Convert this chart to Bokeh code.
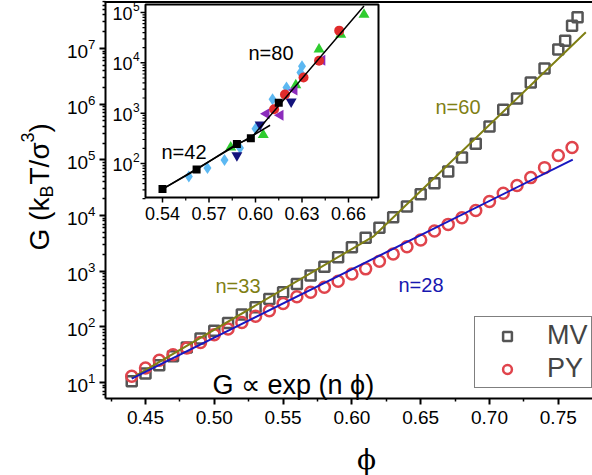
import numpy as np
from bokeh.plotting import figure
from bokeh.models import (Range1d, LogScale, FixedTicker, Label, Legend, LegendItem,
                          LogTickFormatter, NumeralTickFormatter)
from bokeh.core.properties import value
from bokeh.embed import file_html
from bokeh.resources import INLINE

# ---------------- main panel data ----------------
phi_mv = [0.44, 0.45, 0.46, 0.47, 0.48, 0.49, 0.50, 0.51, 0.52, 0.53, 0.54, 0.55, 0.56,
          0.57, 0.58, 0.59, 0.60, 0.61, 0.62, 0.63, 0.64, 0.65, 0.66, 0.67, 0.68, 0.69,
          0.70, 0.71, 0.72, 0.73, 0.74, 0.75, 0.755, 0.76, 0.764]
G_mv = [10.5, 14.5, 20.4, 29.5, 42.7, 61.7, 85.1, 117, 166, 224, 316, 417, 589,
        832, 1200, 1780, 2690, 3980, 6030, 9330, 14500, 24000, 38000, 61700, 110000, 195000,
        398000, 794000, 1.26e6, 2.45e6, 4.37e6, 9.55e6, 1.38e7, 2.57e7, 3.63e7]

phi_py = [0.44, 0.45, 0.46, 0.47, 0.48, 0.49, 0.50, 0.51, 0.52, 0.53, 0.54, 0.55, 0.56,
          0.57, 0.58, 0.59, 0.60, 0.61, 0.62, 0.63, 0.64, 0.65, 0.66, 0.67, 0.68, 0.69,
          0.70, 0.71, 0.72, 0.73, 0.74, 0.75, 0.76]
G_py = [12.9, 18.2, 25.1, 31.6, 41.7, 52.5, 72.4, 91.2, 120, 155, 195, 263, 347,
        417, 513, 661, 891, 1100, 1510, 2040, 2750, 3630, 5250, 6920, 9120, 12300,
        17800, 25100, 34700, 47900, 72400, 120000, 166000]

fit_mv_phi = [0.44, 0.616, 0.770]      # n=33 then n=60
fit_mv_G = [12.0, 4270, 1.95e7]
fit_py_phi = [0.44, 0.7605]            # n=28
fit_py_G = [11.7, 1.01e5]

main_xticks = [0.45, 0.50, 0.55, 0.60, 0.65, 0.70, 0.75]
main_xminor = [0.425, 0.475, 0.525, 0.575, 0.625, 0.675, 0.725]
main_yticks = [10.0 ** k for k in range(1, 8)]
main_yminor = [6.0, 7.0, 8.0, 9.0] + [m * 10.0 ** k for k in range(1, 8) for m in range(2, 10)]

# ---------------- inset data ----------------
in_sq_phi = [0.54, 0.562, 0.588, 0.597, 0.615]
in_sq_G = [31, 76, 245, 316, 1620]
in_curve_phi = [0.54, 0.562, 0.588, 0.597, 0.670]
in_curve_G = [31, 76, 245, 316, 1.35e5]
in_n42_phi = [0.54, 0.6094]
in_n42_G = [31, 575]
in_dia_phi = [0.557, 0.569, 0.580, 0.590, 0.600, 0.611, 0.620, 0.629, 0.630]
in_dia_G = [55, 81, 117, 204, 490, 1900, 3240, 6460, 8510]
in_up_phi = [0.584, 0.605, 0.626, 0.641, 0.655, 0.670]
in_up_G = [209, 372, 3630, 18600, 36300, 91200]
in_down_phi = [0.588, 0.603, 0.623]
in_down_G = [145, 589, 1700]
in_left_phi = [0.607, 0.616, 0.625, 0.643]
in_left_G = [977, 912, 2880, 11200]
in_circ_phi = [0.612, 0.619, 0.631, 0.641, 0.654]
in_circ_G = [1200, 2340, 5130, 11000, 43600]

in_xticks = [0.54, 0.57, 0.60, 0.63, 0.66]
in_xtick_labels = ["0.54", "0.57", "0.60", "0.63", "0.66"]
in_xminor = [0.555, 0.585, 0.615, 0.645, 0.675]
in_yexp = [2, 3, 4, 5]
in_yminor = [m * 10.0 ** k for k in range(1, 5) for m in range(2, 10)]

# ---------------- layout helpers (canvas pixel -> data) ----------------
W, H = 592, 475

def mx(px):
    return 0.45 + (px - 145) / 1376.0

def my(py):
    return 10 ** (1 + (382 - py) / 55.67)

IPX = 1550.0                             # inset px per unit phi (0.54 at px 162)
IPD = 50.33                              # inset px per decade (1e2 at py 163)
def ixv(px):
    return 0.54 + (px - 162) / IPX

def iyl(py):
    return 2 + (163 - py) / IPD

IN_X0, IN_X1 = ixv(145), ixv(378)
IN_LB, IN_LT = iyl(197), iyl(4)

p = figure(width=W, height=H, x_range=Range1d(mx(0), mx(W)),
           y_range=Range1d(my(H), my(0)), y_axis_type="log",
           output_backend="svg", toolbar_location=None, min_border=0)
p.outline_line_color = None
p.grid.visible = False
p.background_fill_color = "white"
p.border_fill_color = "white"

p.extra_x_ranges = {"ix": Range1d(ixv(0), ixv(W))}
p.extra_y_ranges = {"iy": Range1d(10 ** iyl(H), 10 ** iyl(0))}
p.extra_y_scales = {"iy": LogScale()}

p.xaxis.ticker = FixedTicker(ticks=main_xticks, minor_ticks=main_xminor)
p.xaxis.formatter = NumeralTickFormatter(format="0.00")
p.yaxis.ticker = FixedTicker(ticks=main_yticks, minor_ticks=main_yminor)
p.yaxis.formatter = LogTickFormatter()
p.xaxis.fixed_location = my(398)
p.xaxis.bounds = (mx(105), mx(W))
p.yaxis.fixed_location = mx(105)
p.yaxis.bounds = (my(398), my(1.5))
for ax in (p.xaxis[0], p.yaxis[0]):
    ax.axis_line_width = 2
    ax.axis_line_color = "black"
    ax.major_tick_line_width = 2
    ax.minor_tick_line_width = 1.5
    ax.major_tick_line_color = "black"
    ax.minor_tick_line_color = "black"
    ax.major_tick_in = 0
    ax.minor_tick_in = 0
    ax.major_tick_out = 6
    ax.minor_tick_out = 3
    ax.major_label_text_font = "Liberation Sans"
    ax.major_label_text_font_size = "19px"
    ax.major_label_text_color = "black"
p.xaxis.major_label_standoff = 6
p.yaxis.major_label_standoff = 4

# top frame line
p.segment(x0=[mx(104)], x1=[mx(W)], y0=[my(1.5)], y1=[my(1.5)], line_color="black", line_width=2)

# ---------------- main data ----------------
r_mv = p.scatter(phi_mv, G_mv, marker="square", size=10, fill_color=None,
                 line_color="#555555", line_width=2.5)
r_py = p.scatter(phi_py, G_py, marker="circle", size=11, fill_color=None,
                 line_color="#e0444c", line_width=2.5)
p.line(fit_mv_phi, fit_mv_G, line_color="#7f7f14", line_width=2)
p.line(fit_py_phi, fit_py_G, line_color="#1717c0", line_width=2)

# ---------------- inset ----------------
R = dict(x_range_name="ix", y_range_name="iy")
p.quad(left=[IN_X0], right=[IN_X1], bottom=[10 ** IN_LB], top=[10 ** IN_LT],
       fill_color="white", line_color="black", line_width=2, **R)
yb = 10 ** IN_LB
p.segment(x0=in_xticks, x1=in_xticks, y0=[yb] * 5, y1=[10 ** (IN_LB - 5 / IPD)] * 5,
          line_color="black", line_width=1.5, **R)
p.segment(x0=in_xminor, x1=in_xminor, y0=[yb] * 5, y1=[10 ** (IN_LB - 3 / IPD)] * 5,
          line_color="black", line_width=1.2, **R)
yt = [10.0 ** e for e in in_yexp]
p.segment(x0=[IN_X0] * 4, x1=[IN_X0 - 5 / IPX] * 4, y0=yt, y1=yt,
          line_color="black", line_width=1.5, **R)
p.segment(x0=[IN_X0] * len(in_yminor), x1=[IN_X0 - 3 / IPX] * len(in_yminor),
          y0=in_yminor, y1=in_yminor, line_color="black", line_width=1.2, **R)
p.text(x=in_xticks, y=[10 ** (IN_LB - 9 / IPD)] * 5, text=in_xtick_labels,
       text_align="center", text_baseline="top", text_font=value("Liberation Sans"),
       text_font_size=value("18px"), text_color="black", **R)
p.text(x=[IN_X0 - 13 / IPX] * 4, y=[10 ** (e - 1 / IPD) for e in in_yexp],
       text=["10"] * 4, text_align="right", text_baseline="middle",
       text_font=value("Liberation Sans"), text_font_size=value("18px"), text_color="black", **R)
p.text(x=[IN_X0 - 12.5 / IPX] * 4, y=[10 ** (e + 6 / IPD) for e in in_yexp],
       text=[str(e) for e in in_yexp], text_align="left", text_baseline="middle",
       text_font=value("Liberation Sans"), text_font_size=value("12px"), text_color="black", **R)

p.scatter(in_dia_phi, in_dia_G, marker="diamond", size=12, fill_color="#5cb8f2", line_color=None, **R)
p.scatter(in_up_phi, in_up_G, marker="triangle", size=11, fill_color="#2fcc2f", line_color=None, **R)
p.scatter(in_down_phi, in_down_G, marker="inverted_triangle", size=11, fill_color="#13137c", line_color=None, **R)
p.scatter(in_left_phi, in_left_G, marker="triangle", angle=np.pi / 2, size=11,
          fill_color="#8c2cbc", line_color=None, **R)
p.scatter(in_circ_phi, in_circ_G, marker="circle", size=10, fill_color="#e02b2b", line_color=None, **R)
p.line(in_curve_phi, in_curve_G, line_color="black", line_width=1.5, **R)
p.line(in_n42_phi, in_n42_G, line_color="black", line_width=1.5, **R)
p.scatter(in_sq_phi, in_sq_G, marker="square", size=8, fill_color="black", line_color=None, **R)

# ---------------- annotations ----------------
def lab(text, px, py, size, color="black", font="Liberation Sans", align="left",
        baseline="alphabetic", angle=0.0):
    p.add_layout(Label(x=mx(px), y=my(py), text=text, text_font=font,
                       text_font_size=size, text_color=color, text_align=align,
                       text_baseline=baseline, angle=angle))

lab("n=33", 215, 285, "20px", "#7f7f14")
lab("n=60", 435, 106, "20px", "#7f7f14")
lab("n=28", 398, 284, "20px", "#1717b0")
lab("G \u221d exp (n \u03d5)", 212, 384, "27px")
lab("n=80", 248, 52, "20px")
lab("n=42", 161, 151, "20px")
lab("\u03d5", 366, 459, "28px", font="DejaVu Serif", align="center")

# rotated y axis label: G (k_B T/sigma^3)
A = np.pi / 2
lab("G (k", 39, 250, "28px", angle=A)
lab("B", 46, 197, "18px", angle=A)
lab("T/\u03c3", 39, 184, "28px", angle=A)
lab("3", 27, 142, "18px", angle=A)
lab(")", 39, 132, "28px", angle=A)

# ---------------- legend ----------------
legend = Legend(items=[LegendItem(label="MV", renderers=[r_mv]),
                       LegendItem(label="PY", renderers=[r_py])],
                location=(474, H - 388), padding=3, margin=0, spacing=2,
                glyph_width=58, glyph_height=22, label_standoff=11,
                label_text_font="Liberation Sans", label_text_font_size="27px",
                border_line_color="black", border_line_width=1.5,
                background_fill_color="white", background_fill_alpha=1.0)
p.add_layout(legend)

open("out.html", "w").write(file_html(p, INLINE))
